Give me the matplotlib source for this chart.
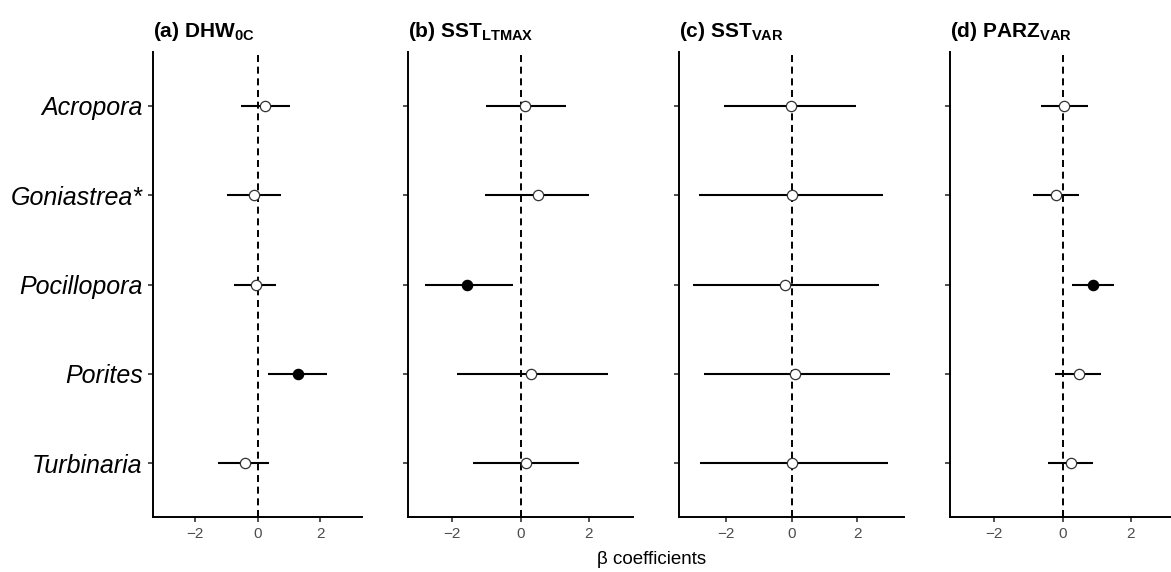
import matplotlib
matplotlib.use("Agg")
import matplotlib.pyplot as plt

# =========================
# DATA
# =========================
genera = ["Acropora", "Goniastrea*", "Pocillopora", "Porites", "Turbinaria"]

titles = [r"(a) DHW$_{\mathbf{0C}}$", r"(b) SST$_{\mathbf{LTMAX}}$",
          r"(c) SST$_{\mathbf{VAR}}$", r"(d) PARZ$_{\mathbf{VAR}}$"]

# estimates, lower and upper bounds, significance per predictor
dhw_est = [0.24, -0.10, -0.06, 1.29, -0.41]
dhw_lo = [-0.54, -0.96, -0.74, 0.33, -1.26]
dhw_hi = [1.02, 0.75, 0.60, 2.20, 0.36]
dhw_sig = [False, False, False, True, False]

sstmax_est = [0.13, 0.50, -1.55, 0.32, 0.15]
sstmax_lo = [-1.01, -1.05, -2.80, -1.87, -1.40]
sstmax_hi = [1.32, 2.00, -0.23, 2.56, 1.71]
sstmax_sig = [False, False, True, False, False]

sstvar_est = [-0.03, 0.02, -0.21, 0.12, 0.03]
sstvar_lo = [-2.04, -2.82, -3.00, -2.67, -2.77]
sstvar_hi = [1.95, 2.78, 2.65, 2.98, 2.94]
sstvar_sig = [False, False, False, False, False]

parz_est = [0.04, -0.19, 0.89, 0.47, 0.26]
parz_lo = [-0.63, -0.86, 0.27, -0.23, -0.41]
parz_hi = [0.74, 0.48, 1.52, 1.14, 0.90]
parz_sig = [False, False, True, False, False]

panels = [
    (dhw_est, dhw_lo, dhw_hi, dhw_sig),
    (sstmax_est, sstmax_lo, sstmax_hi, sstmax_sig),
    (sstvar_est, sstvar_lo, sstvar_hi, sstvar_sig),
    (parz_est, parz_lo, parz_hi, parz_sig),
]
xlims = [(-3.33, 3.33), (-3.29, 3.29), (-3.42, 3.42), (-3.29, 3.29)]

# =========================
# STYLE
# =========================
plt.rcParams["font.family"] = ["Liberation Sans", "DejaVu Sans"]
plt.rcParams["mathtext.fontset"] = "custom"
plt.rcParams["mathtext.rm"] = "Liberation Sans"
plt.rcParams["mathtext.bf"] = "Liberation Sans:bold"

W, H = 1171, 572
fig = plt.figure(figsize=(W / 100, H / 100), dpi=100)

# axes boxes in pixels: left, width
boxes = [(153, 209), (408, 225), (679, 225), (950, 225)]
bottom_px, top_px = 517, 52

for i, ((est, lo, hi, sig), (left, width)) in enumerate(zip(panels, boxes)):
    ax = fig.add_axes([left / W, 1 - bottom_px / H, width / W, (bottom_px - top_px) / H])

    ax.axvline(0, color="black", lw=1.4, linestyle=(0, (3.6, 2.4)), zorder=1)
    for g, e, l, h, s in zip(genera, est, lo, hi, sig):
        ax.plot([l, h], [g, g], color="black", lw=1.5, solid_capstyle="butt", zorder=2)
        ax.plot([e], [g], marker="o", markersize=7.4,
                markerfacecolor="black" if s else "white",
                markeredgecolor="black" if s else "#333333",
                markeredgewidth=0.9, linestyle="none", zorder=3)

    ax.set_xlim(*xlims[i])
    ax.set_ylim(len(genera) - 0.4, -0.6)
    ax.set_xticks([-2, 0, 2])
    ax.set_xticklabels(["\u22122", "0", "2"])

    for sp in ["top", "right"]:
        ax.spines[sp].set_visible(False)
    for sp in ["left", "bottom"]:
        ax.spines[sp].set_linewidth(1.4)
    ax.tick_params(axis="both", length=3.5, width=1.2, color="#333333")
    ax.tick_params(axis="x", labelsize=11, labelcolor="#4D4D4D", pad=4)
    if i == 0:
        ax.tick_params(axis="y", labelsize=18, labelcolor="black", pad=4)
        for t in ax.get_yticklabels():
            t.set_fontstyle("italic")
    else:
        ax.tick_params(axis="y", labelleft=False)

    ax.set_title(titles[i], loc="left", fontsize=15, fontweight="bold", pad=11)

fig.text(652 / W, 1 - 560 / H, "\u03b2 coefficients", ha="center", va="center", fontsize=13.5)

fig.savefig("out.png", dpi=100)
